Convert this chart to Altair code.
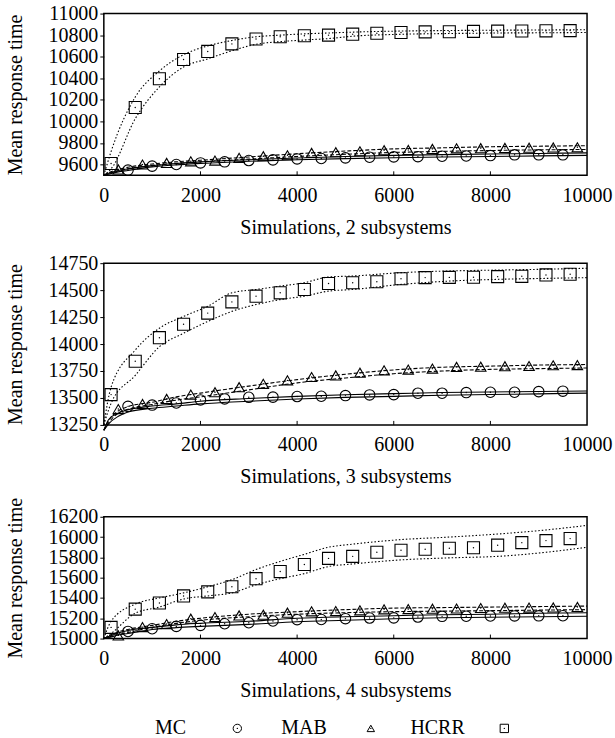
import altair as alt
import pandas as pd

FONT = "Liberation Serif"

# ---------------- data ----------------
X_TICKS = [0, 2000, 4000, 6000, 8000, 10000]

MC_X = [500, 1000, 1500, 2000, 2500, 3000, 3500, 4000, 4500, 5000, 5500, 6000, 6500, 7000, 7500, 8000, 8500, 9000, 9500]
MAB_X = [300, 800, 1300, 1800, 2300, 2800, 3300, 3800, 4300, 4800, 5300, 5800, 6300, 6800, 7300, 7800, 8300, 8800, 9300, 9800]
HCRR_X = [150, 650, 1150, 1650, 2150, 2650, 3150, 3650, 4150, 4650, 5150, 5650, 6150, 6650, 7150, 7650, 8150, 8650, 9150, 9650]

# x grids of the confidence-band lines
BAND_X = [0, 100, 300, 500, 1000, 1500, 2000, 3000, 4000, 5000, 6000, 7000, 8000, 9000, 10000]
HCRR_BAND_X = [0, 150, 650, 1150, 1650, 2150, 2650, 3150, 3650, 4150, 4650, 5150, 6150, 7150, 8150, 9150, 10000]

# ---- panel 1: 2 subsystems
P1_MC = [9548, 9585, 9600, 9615, 9625, 9637, 9643, 9652, 9656, 9662, 9668, 9671, 9673, 9677, 9679, 9683, 9690, 9690, 9690]
P1_MAB = [9554, 9600, 9615, 9630, 9637, 9662, 9677, 9686, 9708, 9714, 9723, 9733, 9735, 9745, 9750, 9752, 9754, 9756, 9758, 9760]
P1_HCRR = [9610, 10129, 10395, 10574, 10649, 10719, 10764, 10785, 10794, 10800, 10809, 10818, 10825, 10830, 10832, 10835, 10837, 10838, 10840, 10842]
P1_MC_UP = [9500, 9520, 9545, 9560, 9590, 9610, 9625, 9645, 9660, 9675, 9685, 9692, 9698, 9703, 9708]
P1_MC_LO = [9500, 9510, 9532, 9545, 9578, 9597, 9610, 9630, 9645, 9655, 9663, 9670, 9675, 9680, 9685]
P1_MAB_UP = [9500, 9525, 9555, 9575, 9605, 9625, 9640, 9670, 9700, 9725, 9745, 9755, 9765, 9770, 9775]
P1_MAB_LO = [9500, 9515, 9540, 9560, 9592, 9610, 9625, 9650, 9675, 9695, 9712, 9722, 9730, 9736, 9740]
P1_HCRR_UP = [9500, 9720, 10226, 10468, 10619, 10700, 10750, 10785, 10800, 10812, 10820, 10828, 10838, 10843, 10846, 10848, 10850]
P1_HCRR_LO = [9500, 9560, 10025, 10320, 10505, 10580, 10655, 10715, 10740, 10755, 10768, 10790, 10808, 10815, 10820, 10822, 10825]
P1_TICKS = [9600, 9800, 10000, 10200, 10400, 10600, 10800, 11000]

# ---- panel 2: 3 subsystems
P2_MC = [13422, 13434, 13453, 13481, 13491, 13506, 13508, 13513, 13516, 13522, 13528, 13531, 13544, 13544, 13550, 13553, 13553, 13559, 13563]
P2_MAB = [13397, 13444, 13491, 13531, 13553, 13600, 13631, 13663, 13694, 13709, 13734, 13756, 13763, 13772, 13788, 13790, 13794, 13796, 13803, 13805]
P2_HCRR = [13531, 13841, 14059, 14184, 14287, 14391, 14444, 14475, 14506, 14562, 14569, 14578, 14606, 14616, 14618, 14620, 14625, 14628, 14641, 14647]
P2_MC_UP = [13200, 13300, 13360, 13390, 13425, 13445, 13470, 13495, 13515, 13530, 13540, 13550, 13555, 13560, 13565]
P2_MC_LO = [13200, 13260, 13330, 13370, 13405, 13425, 13445, 13470, 13490, 13505, 13515, 13525, 13532, 13538, 13545]
P2_MAB_UP = [13200, 13290, 13380, 13420, 13460, 13510, 13545, 13610, 13670, 13720, 13760, 13785, 13795, 13805, 13810]
P2_MAB_LO = [13200, 13270, 13360, 13395, 13440, 13480, 13510, 13575, 13640, 13685, 13725, 13750, 13765, 13772, 13778]
P2_HCRR_UP = [13250, 13600, 13944, 14147, 14256, 14350, 14475, 14506, 14537, 14569, 14622, 14631, 14662, 14678, 14686, 14694, 14703]
P2_HCRR_LO = [13250, 13450, 13709, 13975, 14100, 14209, 14303, 14366, 14412, 14444, 14491, 14506, 14553, 14584, 14600, 14609, 14616]
P2_TICKS = [13250, 13500, 13750, 14000, 14250, 14500, 14750]

# ---- panel 3: 4 subsystems
P3_MC = [15070, 15097, 15120, 15130, 15146, 15156, 15173, 15186, 15188, 15196, 15202, 15204, 15212, 15219, 15220, 15222, 15223, 15224, 15225]
P3_MAB = [15031, 15113, 15143, 15196, 15212, 15228, 15235, 15255, 15268, 15271, 15278, 15288, 15290, 15294, 15296, 15301, 15304, 15305, 15306, 15311]
P3_HCRR = [15110, 15290, 15350, 15420, 15460, 15510, 15590, 15660, 15730, 15790, 15810, 15850, 15870, 15880, 15890, 15895, 15920, 15945, 15965, 15985]
P3_MC_UP = [15000, 15020, 15055, 15080, 15110, 15135, 15150, 15170, 15200, 15215, 15225, 15235, 15240, 15250, 15255]
P3_MC_LO = [15000, 15010, 15035, 15050, 15090, 15108, 15120, 15140, 15165, 15180, 15195, 15205, 15210, 15215, 15220]
P3_MAB_UP = [15000, 15025, 15065, 15090, 15130, 15170, 15200, 15240, 15265, 15285, 15300, 15305, 15310, 15315, 15320]
P3_MAB_LO = [15000, 15015, 15040, 15060, 15110, 15150, 15180, 15215, 15240, 15255, 15265, 15270, 15275, 15280, 15285]
P3_HCRR_UP = [15000, 15170, 15340, 15400, 15450, 15510, 15580, 15680, 15760, 15830, 15900, 15930, 15975, 16000, 16030, 16070, 16115]
P3_HCRR_LO = [15000, 15050, 15250, 15310, 15390, 15420, 15450, 15530, 15590, 15640, 15710, 15735, 15775, 15795, 15810, 15850, 15900]
P3_TICKS = [15000, 15200, 15400, 15600, 15800, 16000, 16200]

LEGEND_ITEMS = ["MC", "circle", "MAB", "triangle", "HCRR", "square"]

W = 484


def band_df(xs, up, lo):
    return pd.DataFrame({"x": xs + xs, "y": up + lo,
                         "band": ["upper"] * len(xs) + ["lower"] * len(xs)})


def panel(mc, mab, hc, mc_up, mc_lo, mab_up, mab_lo, hc_up, hc_lo, ydom, yticks, h, xtitle):
    xs = alt.Scale(domain=[0, 10000], nice=False)
    ys = alt.Scale(domain=ydom, nice=False, zero=False)
    xax = alt.Axis(values=X_TICKS, ticks=False, domain=False, grid=False, labelFlush=False,
                   format="d", labelPadding=10, title=xtitle, titlePadding=12)
    yax = alt.Axis(values=yticks, tickSize=4, domain=False, grid=False, labelPadding=2,
                   format="d", title="Mean response time", titlePadding=22, labelFlush=False)
    X = alt.X("x:Q", scale=xs, axis=xax)
    Y = alt.Y("y:Q", scale=ys, axis=yax)

    def lines(df, dash):
        kw = dict(color="black", strokeWidth=1.1, interpolate="monotone")
        if dash:
            kw["strokeDash"] = dash
        return alt.Chart(df).mark_line(**kw).encode(x=X, y=Y, detail="band:N")

    def pts(xv, yv, shape, size):
        df = pd.DataFrame({"x": xv, "y": yv})
        sym = alt.Chart(df).mark_point(shape=shape, size=size, filled=False, color="black",
                                       strokeWidth=1.1, opacity=1).encode(x=X, y=Y)
        dot = alt.Chart(df).mark_point(shape="circle", size=2, filled=True, color="black",
                                       opacity=1).encode(x=X, y=Y)
        return sym + dot

    ticks = alt.Chart(pd.DataFrame({"x": X_TICKS[1:-1]})).mark_rule(
        color="black", strokeWidth=1).encode(x=alt.X("x:Q", scale=xs, axis=xax),
                                             y=alt.value(h), y2=alt.value(h - 4))

    layer = alt.layer(
        lines(band_df(BAND_X, mc_up, mc_lo), None),
        lines(band_df(BAND_X, mab_up, mab_lo), [4, 2]),
        lines(band_df(HCRR_BAND_X, hc_up, hc_lo), [1.5, 2]),
        pts(MC_X, mc, "circle", 110),
        pts(MAB_X, mab, "triangle-up", 110),
        pts(HCRR_X, hc, "square", 145),
        ticks,
    ).properties(width=W, height=h)
    return layer


p1 = panel(P1_MC, P1_MAB, P1_HCRR, P1_MC_UP, P1_MC_LO, P1_MAB_UP, P1_MAB_LO, P1_HCRR_UP, P1_HCRR_LO,
           [9500, 11000], P1_TICKS, 162, "Simulations, 2 subsystems")
p2 = panel(P2_MC, P2_MAB, P2_HCRR, P2_MC_UP, P2_MC_LO, P2_MAB_UP, P2_MAB_LO, P2_HCRR_UP, P2_HCRR_LO,
           [13250, 14750], P2_TICKS, 162, "Simulations, 3 subsystems")
p3 = panel(P3_MC, P3_MAB, P3_HCRR, P3_MC_UP, P3_MC_LO, P3_MAB_UP, P3_MAB_LO, P3_HCRR_UP, P3_HCRR_LO,
           [15000, 16200], P3_TICKS, 122, "Simulations, 4 subsystems")

leg_df = pd.DataFrame({"item": LEGEND_ITEMS, "order": list(range(len(LEGEND_ITEMS)))})
LX = alt.X("item:N", sort=LEGEND_ITEMS, scale=alt.Scale(type="point", padding=1.045), axis=None)
LY = alt.value(19)
leg_text = alt.Chart(leg_df).transform_filter(
    alt.FieldOneOfPredicate(field="item", oneOf=["MC", "MAB", "HCRR"])
).mark_text(font=FONT, fontSize=20, color="black", baseline="middle").encode(
    x=LX, y=LY, text="item:N")


def leg_sym(name, shape, size):
    return alt.Chart(leg_df).transform_filter(alt.datum.item == name).mark_point(
        shape=shape, size=size, filled=False, color="black", strokeWidth=1, opacity=1
    ).encode(x=LX, y=LY)


def leg_dot(name):
    return alt.Chart(leg_df).transform_filter(alt.datum.item == name).mark_point(
        shape="circle", size=2, filled=True, color="black", opacity=1
    ).encode(x=LX, y=LY)


legend = alt.layer(
    leg_text,
    leg_sym("circle", "circle", 70), leg_dot("circle"),
    leg_sym("triangle", "triangle-up", 55), leg_dot("triangle"),
    leg_sym("square", "square", 70), leg_dot("square"),
).properties(width=468, height=26, view=alt.ViewConfig(strokeWidth=0, stroke="transparent"))

lower = alt.vconcat(p2, p3, legend, spacing=8)

chart = alt.vconcat(p1, lower, spacing=14).properties(
    padding={"left": 5, "top": 2, "right": 2, "bottom": 0}, background="white"
).configure_view(stroke="black", strokeWidth=1.5).configure_axis(
    labelFont=FONT, labelFontSize=20, titleFont=FONT, titleFontSize=20,
    titleFontWeight="normal", labelColor="black", titleColor="black", tickColor="black"
)

chart.save("out.html", embed_options={"renderer": "svg", "actions": False})
